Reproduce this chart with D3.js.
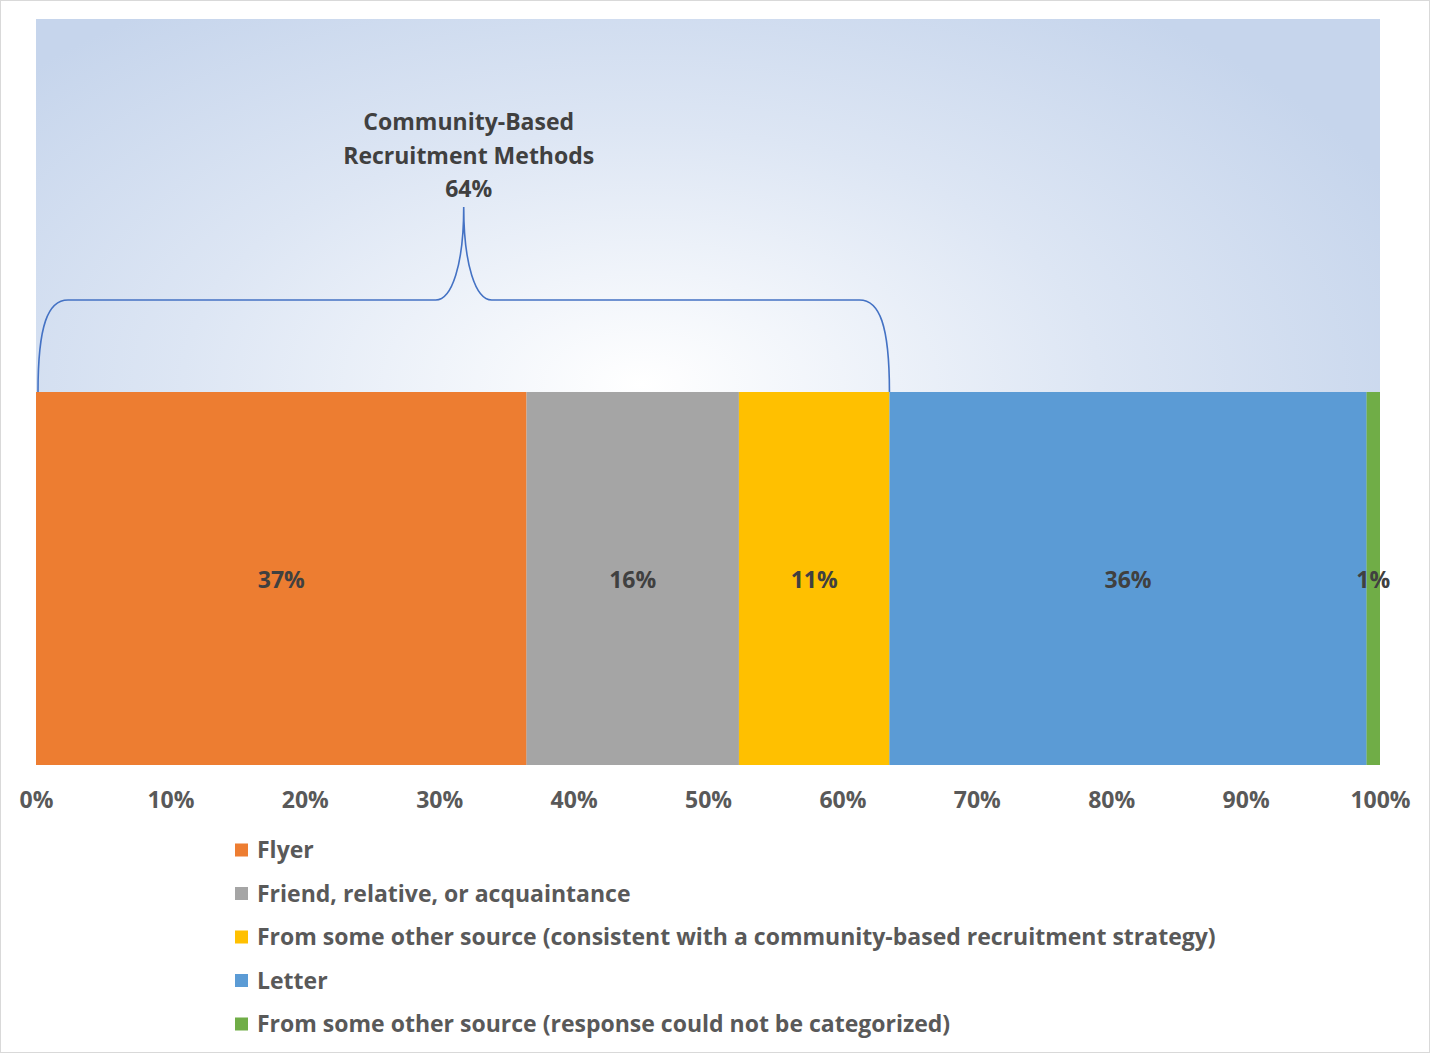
<!DOCTYPE html>
<html>
<head>
<meta charset="utf-8">
<script src="https://cdn.jsdelivr.net/npm/d3@7"></script>
<style>
	html, body { margin: 0; padding: 0; background: #fff; }
	svg text { font-family: "Open Sans", "Noto Sans", sans-serif; font-weight: bold; }
</style>
</head>
<body>
<div id="chart"></div>
<script>
'use strict'

// Données
var categories = ["Flyer", "Friend, relative, or acquaintance", "From some other source (consistent with a community-based recruitment strategy)", "Letter", "From some other source (response could not be categorized)"];
var values = [0.365, 0.158, 0.112, 0.355, 0.010];
var valueLabels = ["37%", "16%", "11%", "36%", "1%"];
var colors = ["#ed7d31", "#a5a5a5", "#ffc000", "#5b9bd5", "#70ad47"];
var bandLabels = ["brace", "bar"];
var xTicks = [0, 0.1, 0.2, 0.3, 0.4, 0.5, 0.6, 0.7, 0.8, 0.9, 1.0];
var braceCount = 3;
var braceTitle = ["Community-Based", "Recruitment Methods", "64%"];

function generateChart(){

	var width = 1430;
	var height = 1053;
	var left = 36, right = 1380, top = 19, bottom = 765;

	var svg = d3.select("#chart")
		.html('')
		.append('svg')
		.attr("width", width)
		.attr("height", height);

	// cadre gris
	svg.append("rect")
		.attr("x", 0.5).attr("y", 0.5)
		.attr("width", width - 1).attr("height", height - 1)
		.attr("fill", "white")
		.attr("stroke", "#d9d9d9");

	var defs = svg.append("defs");
	var grad = defs.append("radialGradient")
		.attr("id", "bg")
		.attr("cx", 0.45).attr("cy", 0.49)
		.attr("r", 0.62)
		.attr("fx", 0.45).attr("fy", 0.49);
	grad.append("stop").attr("offset", "0%").attr("stop-color", "#ffffff");
	grad.append("stop").attr("offset", "55%").attr("stop-color", "#dde6f4");
	grad.append("stop").attr("offset", "100%").attr("stop-color", "#c6d5ec");

	var x = d3.scaleLinear().domain([0, 1]).range([left, right]);
	var y = d3.scaleBand().domain(bandLabels).range([top, bottom]).padding(0);

	// fond de la zone de tracé
	svg.append("rect")
		.attr("x", x(0)).attr("y", top)
		.attr("width", x(1) - x(0)).attr("height", bottom - top)
		.attr("fill", "url(#bg)");

	// cumuls
	var segs = [];
	var acc = 0;
	values.forEach(function(v, i){
		segs.push({start: acc, end: acc + v, label: valueLabels[i], color: colors[i]});
		acc += v;
	});

	svg.append("g")
		.selectAll("rect")
		.data(segs)
		.enter()
		.append("rect")
			.attr("x", function(d){ return x(d.start); })
			.attr("y", y("bar"))
			.attr("width", function(d){ return x(d.end) - x(d.start); })
			.attr("height", y.bandwidth())
			.attr("fill", function(d){ return d.color; });

	svg.append("g")
		.selectAll("text")
		.data(segs)
		.enter()
		.append("text")
			.attr("x", function(d){ return (x(d.start) + x(d.end)) / 2; })
			.attr("y", y("bar") + y.bandwidth() / 2 + 1)
			.attr("dy", "0.35em")
			.attr("text-anchor", "middle")
			.style("fill", "#404040")
			.style("font-size", "23px")
			.text(function(d){ return d.label; });

	// axe des x
	var axis = svg.append("g")
		.attr("transform", "translate(0," + bottom + ")")
		.call(d3.axisBottom(x).tickValues(xTicks).tickFormat(d3.format(".0%")).tickSize(0).tickPadding(27));
	axis.select(".domain").remove();
	axis.selectAll("text")
		.style("fill", "#595959")
		.style("font-size", "23px")
		.style("font-family", "'Open Sans', sans-serif")
		.style("font-weight", "bold");

	// accolade
	var bx0 = x(segs[0].start) + 2;
	var bx1 = x(segs[braceCount - 1].end);
	var bm = (bx0 + bx1) / 2;
	var yb = y("bar");
	var yh = 300;
	var yt = 207;
	var p = d3.path();
	p.moveTo(bx0, yb);
	p.bezierCurveTo(bx0, yh + 25, bx0 + 10, yh, bx0 + 30, yh);
	p.lineTo(bm - 28, yh);
	p.bezierCurveTo(bm - 12, yh, bm, yh - 35, bm, yt);
	p.bezierCurveTo(bm, yh - 35, bm + 12, yh, bm + 28, yh);
	p.lineTo(bx1 - 30, yh);
	p.bezierCurveTo(bx1 - 10, yh, bx1, yh + 25, bx1, yb);
	svg.append("path")
		.attr("d", p.toString())
		.attr("fill", "none")
		.attr("stroke", "#4472c4")
		.attr("stroke-width", 1.6);

	svg.append("g")
		.selectAll("text")
		.data(braceTitle)
		.enter()
		.append("text")
			.attr("x", bm + 5)
			.attr("y", function(d, i){ return 122 + i * 33.5; })
			.attr("dy", "0.35em")
			.attr("text-anchor", "middle")
			.style("fill", "#404040")
			.style("font-size", "23px")
			.text(function(d){ return d; });

	// légende
	var leg = svg.append("g")
		.selectAll("g")
		.data(categories)
		.enter()
		.append("g")
			.attr("transform", function(d, i){ return "translate(235," + (850 + i * 43.5) + ")"; });
	leg.append("rect")
		.attr("x", 0).attr("y", -6.5)
		.attr("width", 13).attr("height", 13)
		.attr("fill", function(d, i){ return colors[i]; });
	leg.append("text")
		.attr("x", 22)
		.attr("dy", "0.35em")
		.style("fill", "#595959")
		.style("font-size", "23px")
		.text(function(d){ return d; });
}

generateChart();
</script>
</body>
</html>
